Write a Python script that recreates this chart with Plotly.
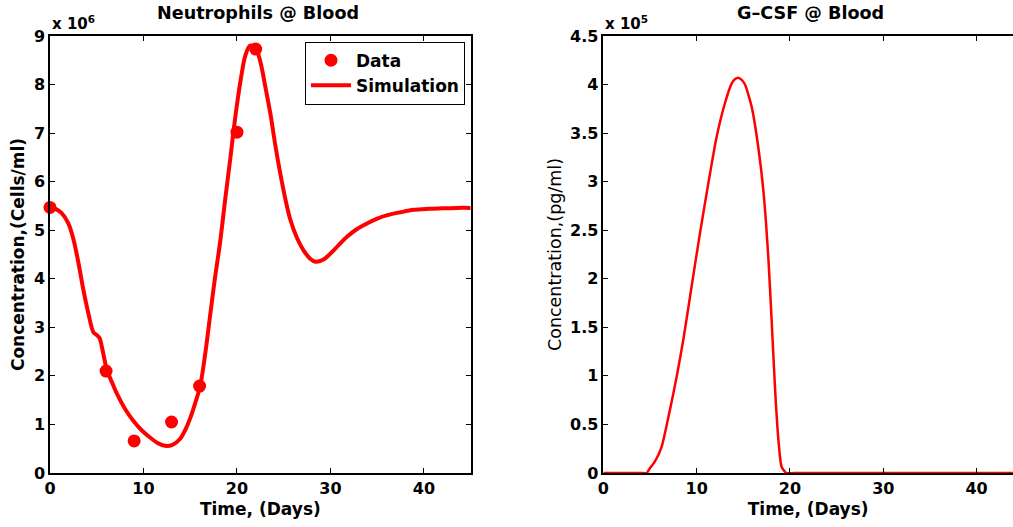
import plotly.graph_objects as go

# ---------------- data ----------------
days_data = [0, 6, 9, 13, 16, 20, 22]
neut_data = [5.47e6, 2.10e6, 0.66e6, 1.05e6, 1.79e6, 7.02e6, 8.73e6]

sim_days = [0, 0.6, 1.25, 1.96, 2.5, 3.04, 3.57, 4.1, 4.64, 5.0, 5.3, 5.6, 6.07, 6.6,
            7.14, 8.0, 8.93, 9.8, 10.7, 11.5, 12.3, 13.1, 13.9, 14.5, 15.0, 15.5,
            16.07, 16.6, 17.1, 17.6, 18.2, 18.75, 19.3, 19.8, 20.4, 20.9, 21.4,
            21.96, 22.5, 23.0, 23.6, 24.1, 24.6, 25.2, 25.7, 26.4, 27.1, 27.8, 28.4,
            29.2, 30.0, 30.9, 31.8, 32.8, 33.9, 35.0, 36.1, 37.5, 38.9, 40.5, 42.0,
            43.5, 45.0]
sim_neut = [5.47e6, 5.44e6, 5.35e6, 5.14e6, 4.82e6, 4.33e6, 3.77e6, 3.29e6, 2.90e6,
            2.84e6, 2.78e6, 2.55e6, 2.14e6, 1.88e6, 1.64e6, 1.33e6, 1.07e6, 0.88e6,
            0.73e6, 0.62e6, 0.56e6, 0.58e6, 0.70e6, 0.90e6, 1.13e6, 1.42e6, 1.80e6,
            2.45e6, 3.20e6, 3.95e6, 4.76e6, 5.65e6, 6.50e6, 7.30e6, 8.10e6, 8.60e6,
            8.80e6, 8.76e6, 8.47e6, 7.99e6, 7.37e6, 6.75e6, 6.20e6, 5.62e6, 5.22e6,
            4.85e6, 4.59e6, 4.42e6, 4.35e6, 4.39e6, 4.52e6, 4.70e6, 4.87e6, 5.02e6,
            5.14e6, 5.24e6, 5.31e6, 5.37e6, 5.42e6, 5.44e6, 5.45e6, 5.46e6, 5.46e6]

gcsf_days = [0, 1, 2, 3, 4, 4.65, 5.0, 5.54, 6.25, 7.14, 7.86, 8.57, 9.46, 10.36,
             11.25, 12.14, 13.04, 13.75, 14.1, 14.46, 14.8, 15.18, 15.9, 16.6,
             17.18, 17.7, 18.07, 18.43, 18.79, 19.1, 19.6, 20.5, 25, 30, 35, 40, 45]
gcsf_vals = [0, 0, 0, 0, 0, 0, 0.05e5, 0.12e5, 0.27e5, 0.65e5, 0.99e5, 1.37e5,
             1.92e5, 2.47e5, 2.98e5, 3.46e5, 3.81e5, 4.01e5, 4.055e5, 4.07e5,
             4.05e5, 4.00e5, 3.77e5, 3.36e5, 2.88e5, 2.19e5, 1.51e5, 0.82e5,
             0.31e5, 0.065e5, 0, 0, 0, 0, 0, 0, 0]

x_ticks = [0, 10, 20, 30, 40]
y1_tickvals = [0, 1e6, 2e6, 3e6, 4e6, 5e6, 6e6, 7e6, 8e6, 9e6]
y1_ticktext = ["0", "1", "2", "3", "4", "5", "6", "7", "8", "9"]
y2_tickvals = [0, 0.5e5, 1e5, 1.5e5, 2e5, 2.5e5, 3e5, 3.5e5, 4e5, 4.5e5]
y2_ticktext = ["0", "0.5", "1", "1.5", "2", "2.5", "3", "3.5", "4", "4.5"]

# ---------------- figure ----------------
W, H = 1013, 527
RED = "#ff0000"
FONT = "DejaVu Sans"
bold = dict(family=FONT, size=17, color="black", weight="bold")
titlebold = dict(family=FONT, size=17.6, color="black", weight="bold")
tickbold = dict(family=FONT, size=16, color="black", weight="bold")

fig = go.Figure()
fig.add_trace(go.Scatter(x=days_data, y=neut_data, mode="markers", name="Data",
                         marker=dict(color=RED, size=13), cliponaxis=False,
                         xaxis="x", yaxis="y"))
fig.add_trace(go.Scatter(x=sim_days, y=sim_neut, mode="lines", name="Simulation",
                         line=dict(color=RED, width=4, shape="spline", smoothing=0.9),
                         xaxis="x", yaxis="y"))
fig.add_trace(go.Scatter(x=gcsf_days, y=gcsf_vals, mode="lines", showlegend=False,
                         line=dict(color=RED, width=2.5, shape="spline", smoothing=0.6),
                         xaxis="x2", yaxis="y2"))

ydom = [54 / H, 491 / H]
common = dict(showline=True, linecolor="black", linewidth=1.5, ticks="inside",
              ticklen=5, tickcolor="black", tickwidth=1, showgrid=False,
              zeroline=False, tickfont=tickbold, automargin=False)

fig.update_layout(
    width=W, height=H, margin=dict(l=0, r=0, t=0, b=0, pad=0),
    paper_bgcolor="white", plot_bgcolor="white",
    xaxis=dict(domain=[50 / W, 470.7 / W], anchor="y", range=[0, 45],
               tickvals=x_ticks, mirror="ticks",
               title=dict(text="Time, (Days)", font=bold, standoff=6), **common),
    yaxis=dict(domain=ydom, anchor="x", range=[0, 9e6], tickvals=y1_tickvals,
               ticktext=y1_ticktext, mirror="ticks",
               title=dict(text="Concentration,(Cells/ml)", font=bold, standoff=5),
               **common),
    xaxis2=dict(domain=[603.3 / W, 1.0], anchor="y2", range=[0, 43.9],
                tickvals=x_ticks, mirror="ticks",
                title=dict(text="Time, (Days)", font=bold, standoff=6), **common),
    yaxis2=dict(domain=ydom, anchor="x2", range=[0, 4.5e5], tickvals=y2_tickvals,
                ticktext=y2_ticktext, mirror=False,
                title=dict(text="Concentration,(pg/ml)",
                           font=dict(family=FONT, size=17.5, color="black"),
                           standoff=4),
                **common),
    legend=dict(x=465 / W, y=1 - 41.7 / H, xanchor="right", yanchor="top",
                bgcolor="white", bordercolor="black", borderwidth=1, font=bold,
                itemwidth=40, tracegroupgap=0),
    annotations=[
        dict(text="Neutrophils @ Blood", x=258 / W, y=1 - 13 / H, xref="paper",
             yref="paper", xanchor="center", yanchor="middle", showarrow=False,
             font=titlebold),
        dict(text="G–CSF @ Blood", x=810 / W, y=1 - 13 / H, xref="paper",
             yref="paper", xanchor="center", yanchor="middle", showarrow=False,
             font=titlebold),
        dict(text="x 10<sup>6</sup>", x=50 / W, y=1 - 35 / H, xref="paper",
             yref="paper", xanchor="left", yanchor="bottom", showarrow=False,
             font=dict(family=FONT, size=15, color="black", weight="bold")),
        dict(text="x 10<sup>5</sup>", x=603 / W, y=1 - 35 / H, xref="paper",
             yref="paper", xanchor="left", yanchor="bottom", showarrow=False,
             font=dict(family=FONT, size=15, color="black", weight="bold")),
    ],
)

fig.write_html("out.html")
